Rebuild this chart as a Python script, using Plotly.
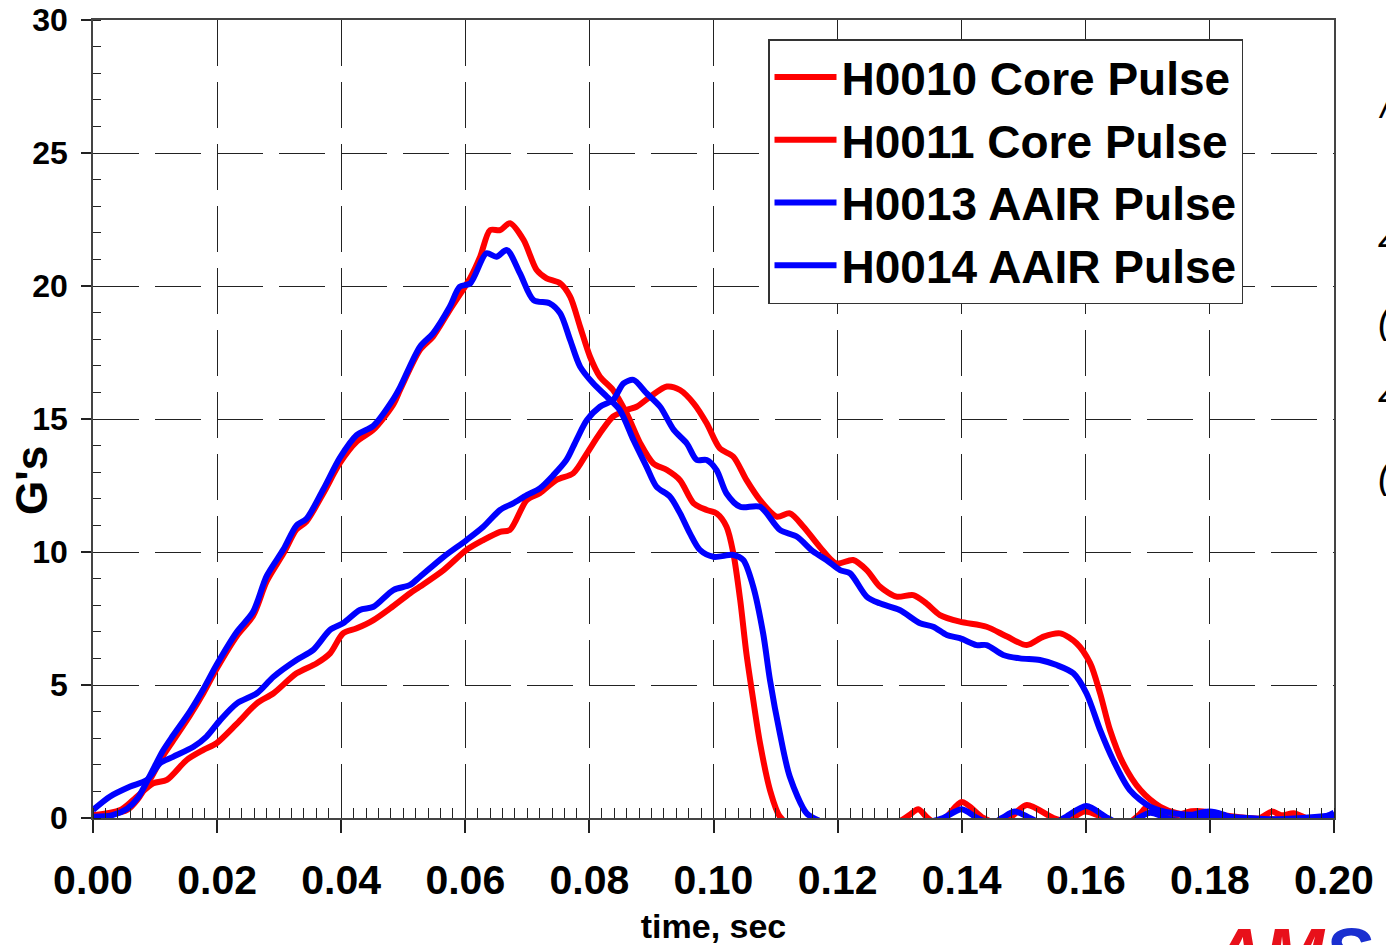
import plotly.graph_objects as go

# ---------------- data ----------------
series_names = ["H0010 Core Pulse", "H0011 Core Pulse", "H0013 AAIR Pulse", "H0014 AAIR Pulse"]
series_colors = ["#FF0000", "#FF0000", "#0000FF", "#0000FF"]

t_h0010 = [0, 0.003, 0.0055, 0.0072, 0.0092, 0.0112, 0.0129, 0.0156, 0.0178, 0.0199, 0.0232, 0.0258,
           0.028, 0.0307, 0.0328, 0.0344, 0.0371, 0.0398, 0.0425, 0.0452, 0.0484, 0.0495, 0.0527, 0.0548,
           0.0575, 0.0608, 0.0624, 0.064, 0.0656, 0.0672, 0.0694, 0.0715, 0.0731, 0.0753, 0.0769, 0.0785,
           0.0801, 0.0817, 0.0838, 0.086, 0.0882, 0.0903, 0.0925, 0.0946, 0.0968, 0.0989, 0.1005, 0.1021,
           0.1032, 0.1043, 0.1053, 0.1064, 0.1075, 0.1091, 0.1107, 0.113, 0.12, 0.1285, 0.1315, 0.133,
           0.1345, 0.136, 0.1376, 0.14, 0.1435, 0.146, 0.148, 0.1505, 0.1548, 0.157, 0.1598, 0.163, 0.166,
           0.1685, 0.17, 0.1722, 0.1745, 0.177, 0.18, 0.183, 0.186, 0.1885, 0.19, 0.1915, 0.1935, 0.1955,
           0.198, 0.2]
g_h0010 = [0.1, 0.15, 0.3, 0.7, 1.45, 2.3, 2.9, 3.85, 4.7, 5.6, 6.85, 7.6,
           8.9, 9.95, 10.85, 11.15, 12.2, 13.35, 14.15, 14.6, 15.55, 16.1, 17.6, 18.1,
           19.1, 20.3, 21.1, 22.1, 22.1, 22.36, 21.73, 20.6, 20.29, 20.1, 19.6, 18.47,
           17.34, 16.59, 16.09, 15.21, 14.08, 13.33, 13.08, 12.7, 11.83, 11.58, 11.45, 10.95,
           9.95, 8.2, 6.19, 4.44, 2.81, 1.05, 0.05, -0.35, -0.5, -0.3, 0.1, 0.33,
           0.0, -0.2, 0.05, 0.6, 0.0, -0.2, 0.05, 0.49, 0.0, -0.1, 0.24, 0.0, -0.3,
           0.1, 0.43, 0.2, 0.1, 0.25, 0.2, -0.1, -0.3, 0.05, 0.24, 0.1, 0.18, 0.0,
           -0.2, -0.2]

t_h0011 = [0, 0.0044, 0.0065, 0.0097, 0.0119, 0.0151, 0.0178, 0.0199, 0.0232, 0.0264, 0.0291, 0.0328,
           0.036, 0.0382, 0.0403, 0.0425, 0.0452, 0.0479, 0.0511, 0.0527, 0.0565, 0.0602, 0.0629, 0.0656,
           0.0672, 0.0699, 0.072, 0.0747, 0.0774, 0.0796, 0.0817, 0.0838, 0.086, 0.0876, 0.0898, 0.0925,
           0.0946, 0.0968, 0.0989, 0.101, 0.1032, 0.1053, 0.1075, 0.1102, 0.1123, 0.1145, 0.1171, 0.1198,
           0.1225, 0.1247, 0.1268, 0.1295, 0.1322, 0.1343, 0.1365, 0.1397, 0.144, 0.1473, 0.1505, 0.1532,
           0.1559, 0.1585, 0.1607, 0.1623, 0.1639, 0.166, 0.1688, 0.172, 0.1747, 0.178, 0.182, 0.186,
           0.19, 0.195, 0.2]
g_h0011 = [0.1, 0.3, 0.68, 1.3, 1.43, 2.18, 2.56, 2.81, 3.55, 4.31, 4.69, 5.44,
           5.81, 6.19, 6.94, 7.13, 7.44, 7.88, 8.45, 8.7, 9.32, 10.08, 10.45, 10.76,
           10.83, 11.95, 12.21, 12.71, 12.96, 13.71, 14.46, 15.09, 15.34, 15.46, 15.84, 16.22,
           16.09, 15.59, 14.84, 13.9, 13.58, 12.71, 11.95, 11.33, 11.45, 10.95, 10.2, 9.57,
           9.7, 9.32, 8.7, 8.32, 8.38, 8.07, 7.63, 7.38, 7.19, 6.82, 6.5, 6.82,
           6.94, 6.57, 5.82, 4.69, 3.31, 2.06, 1.05, 0.42, 0.18, 0.12, 0.1, 0.0,
           -0.05, -0.05, 0.0]

t_h0013 = [0, 0.003, 0.0055, 0.0072, 0.0092, 0.0112, 0.0129, 0.0156, 0.0178, 0.0199, 0.0232, 0.0258,
           0.028, 0.0307, 0.0328, 0.0344, 0.0371, 0.0398, 0.0425, 0.0452, 0.0484, 0.0495, 0.0527, 0.0548,
           0.0575, 0.0591, 0.0608, 0.0634, 0.065, 0.0667, 0.0688, 0.071, 0.0736, 0.0753, 0.0769, 0.0785,
           0.0806, 0.0828, 0.0849, 0.0871, 0.0892, 0.0908, 0.093, 0.0946, 0.0962, 0.0978, 0.1, 0.1032,
           0.1048, 0.1064, 0.108, 0.1091, 0.1107, 0.1123, 0.115, 0.117, 0.12, 0.128, 0.134, 0.137,
           0.14, 0.1425, 0.145, 0.1465, 0.1486, 0.151, 0.154, 0.1565, 0.1601, 0.1635, 0.1665, 0.1685,
           0.1704, 0.173, 0.175, 0.177, 0.18, 0.1825, 0.186, 0.19, 0.195, 0.198, 0.2]
g_h0013 = [0.05, 0.1, 0.35, 0.75, 1.6, 2.5, 3.1, 4.0, 4.85, 5.75, 7.0, 7.75,
           9.1, 10.1, 11.0, 11.25, 12.35, 13.55, 14.4, 14.75, 15.75, 16.2, 17.72, 18.22,
           19.22, 19.97, 20.1, 21.23, 21.1, 21.35, 20.48, 19.47, 19.35, 18.97, 17.97, 16.97,
           16.34, 15.84, 15.34, 14.21, 13.21, 12.46, 12.08, 11.46, 10.7, 10.08, 9.82, 9.89,
           9.7, 8.7, 6.94, 5.19, 3.18, 1.55, 0.18, -0.1, -0.3, -0.5, -0.2, 0.0,
           0.33, 0.0, -0.2, 0.0, 0.24, 0.0, -0.3, 0.0, 0.45, 0.0, -0.3, 0.0,
           0.2, 0.0, -0.1, 0.1, 0.24, 0.1, -0.2, -0.3, -0.1, 0.0, 0.2]

t_h0014 = [0, 0.0027, 0.006, 0.0087, 0.0108, 0.0129, 0.0162, 0.0183, 0.0205, 0.0232, 0.0264, 0.0291,
           0.0328, 0.0355, 0.0382, 0.0403, 0.043, 0.0452, 0.0484, 0.0511, 0.0527, 0.0565, 0.0602, 0.0629,
           0.0656, 0.0677, 0.0699, 0.072, 0.0742, 0.0763, 0.0779, 0.0796, 0.0817, 0.0838, 0.0855, 0.0871,
           0.0892, 0.0914, 0.0936, 0.0957, 0.0973, 0.0989, 0.1005, 0.1021, 0.1043, 0.1075, 0.1107, 0.1134,
           0.1161, 0.1182, 0.1204, 0.122, 0.1247, 0.1268, 0.13, 0.1333, 0.1354, 0.1376, 0.1397, 0.1424,
           0.144, 0.1467, 0.1494, 0.1526, 0.1553, 0.158, 0.1601, 0.1623, 0.1644, 0.1671, 0.1704, 0.1741,
           0.177, 0.18, 0.183, 0.186, 0.19, 0.195, 0.2]
g_h0014 = [0.3, 0.8, 1.18, 1.43, 2.06, 2.3, 2.68, 3.06, 3.68, 4.31, 4.69, 5.31,
           5.94, 6.32, 7.07, 7.32, 7.82, 7.94, 8.57, 8.76, 9.07, 9.82, 10.45, 10.95,
           11.58, 11.83, 12.14, 12.39, 12.89, 13.46, 14.21, 14.96, 15.46, 15.71, 16.34, 16.47,
           15.97, 15.46, 14.59, 14.08, 13.46, 13.46, 13.08, 12.2, 11.7, 11.7, 10.83, 10.58,
           10.01, 9.7, 9.32, 9.2, 8.32, 8.07, 7.82, 7.32, 7.19, 6.88, 6.76, 6.5,
           6.5, 6.13, 6.0, 5.94, 5.75, 5.44, 4.69, 3.31, 2.18, 1.05, 0.42, 0.18,
           0.12, 0.1, 0.05, 0.0, -0.05, 0.0, 0.1]

x_tick_vals = [0.00, 0.02, 0.04, 0.06, 0.08, 0.10, 0.12, 0.14, 0.16, 0.18, 0.20]
x_tick_text = ["0.00", "0.02", "0.04", "0.06", "0.08", "0.10", "0.12", "0.14", "0.16", "0.18", "0.20"]
y_tick_vals = [0, 5, 10, 15, 20, 25, 30]

x_title = "time, sec"
y_title = "G's"
side_fragments = ["/", "4", "(", "4", "("]
side_fragment_y = [105, 240, 320, 395, 475]   # pixel rows of the clipped side text

FONT = "Arial, 'Liberation Sans', sans-serif"

# ---------------- figure ----------------
W, H = 1386, 945
L, R, T, B = 93, 52, 20, 127
plot_w, plot_h = W - L - R, H - T - B

fig = go.Figure()
for name, color, tx, gy in zip(series_names, series_colors,
                               [t_h0010, t_h0011, t_h0013, t_h0014],
                               [g_h0010, g_h0011, g_h0013, g_h0014]):
    fig.add_trace(go.Scatter(
        x=tx, y=gy, mode="lines", name=name,
        line=dict(color=color, width=6, shape="spline", smoothing=0.8),
        hoverinfo="skip",
    ))

axis_common = dict(
    showline=True, linecolor="#444", linewidth=1.5, mirror=True,
    showgrid=True, gridcolor="#222", gridwidth=1, griddash="46px,16px",
    zeroline=False, tickcolor="#222",
)

fig.update_xaxes(
    range=[0, 0.2], tickvals=x_tick_vals, ticktext=x_tick_text,
    ticks="outside", ticklen=13, tickwidth=1.5,
    minor=dict(ticks="inside", dtick=0.002, ticklen=10, tickcolor="#222", tickwidth=1, showgrid=False),
    tickfont=dict(family=FONT, size=41, color="black", weight="bold"),
    ticklabelstandoff=12,
    title=dict(text=x_title, font=dict(family=FONT, size=34, color="black", weight="bold"), standoff=12),
    **axis_common,
)
fig.update_yaxes(
    range=[0, 30], tickvals=y_tick_vals,
    ticks="outside", ticklen=10, tickwidth=1.5,
    minor=dict(ticks="inside", dtick=1, ticklen=8, tickcolor="#222", tickwidth=1, showgrid=False),
    tickfont=dict(family=FONT, size=32, color="black", weight="bold"),
    ticklabelstandoff=7,
    **axis_common,
)

annotations = []
# y-axis title (placed below the vertical centre, as in the reference)
annotations.append(dict(
    text="<b>" + y_title + "</b>", xref="paper", yref="paper",
    x=(31 - L) / plot_w, y=(H - B - 481) / plot_h,
    xanchor="center", yanchor="middle", textangle=-90, showarrow=False,
    font=dict(family=FONT, size=44, color="black"),
))
for ch, py in zip(side_fragments, side_fragment_y):
    annotations.append(dict(
        text="<i>" + ch + "</i>", xref="paper", yref="paper",
        x=(1376 - L) / plot_w, y=(H - B - py) / plot_h,
        xanchor="left", yanchor="middle", showarrow=False,
        font=dict(family=FONT, size=38, color="black"),
    ))
annotations.append(dict(
    text="<b><i>AM<span style='color:#1a2fd0'>S</span></i></b>", xref="paper", yref="paper",
    x=(1208 - L) / plot_w, y=(H - B - 912) / plot_h,
    xanchor="left", yanchor="top", showarrow=False,
    font=dict(family=FONT, size=72, color="#e8101a"),
))

fig.update_layout(
    width=W, height=H,
    margin=dict(l=L, r=R, t=T, b=B, autoexpand=False),
    paper_bgcolor="white", plot_bgcolor="white",
    showlegend=True,
    legend=dict(
        x=(768 - L) / plot_w, y=(H - B - 39) / plot_h, xanchor="left", yanchor="top",
        bgcolor="white", bordercolor="#333", borderwidth=1.5,
        font=dict(family=FONT, size=46, color="black", weight="bold"),
        itemwidth=62, tracegroupgap=0,
    ),
    annotations=annotations,
)

fig.write_html("out.html", include_plotlyjs=True, config={"displayModeBar": False})
